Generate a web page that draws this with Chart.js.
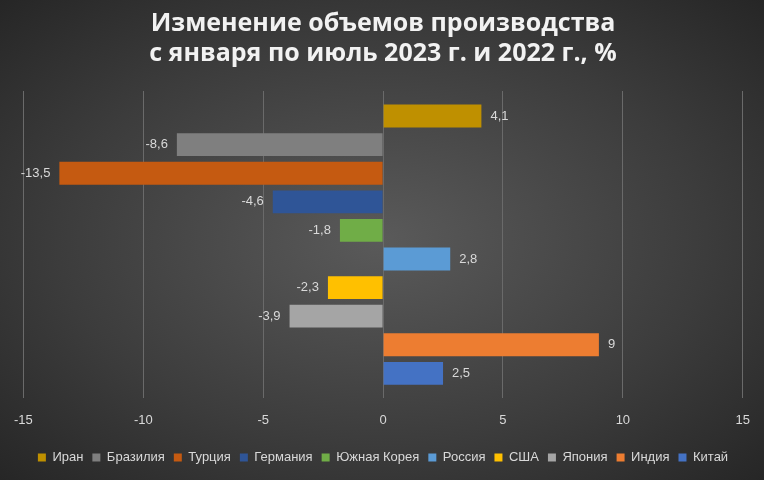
<!DOCTYPE html>
<html><head><meta charset="utf-8">
<script src="https://cdn.jsdelivr.net/npm/chart.js@4"></script>
<style>
html,body{margin:0;padding:0;}
body{width:764px;height:480px;background:radial-gradient(ellipse at center,#5a5a5a 0%,#3c3c3c 60%,#262626 100%);}
#wrap{width:764px;height:480px;}
</style></head>
<body><div id="wrap"><canvas id="c"></canvas></div>
<script>
var countries = ['Иран','Бразилия','Турция','Германия','Южная Корея','Россия','США','Япония','Индия','Китай'];
var values = [4.1, -8.6, -13.5, -4.6, -1.8, 2.8, -2.3, -3.9, 9, 2.5];
var colors = ['#BF9000','#7F7F7F','#C55A11','#2F5597','#70AD47','#5B9BD5','#FFC000','#A5A5A5','#ED7D31','#4472C4'];
var xTicks = [-15, -10, -5, 0, 5, 10, 15];

var datasets = countries.map(function(name, i) {
  return { label: name, data: [values[i]], backgroundColor: colors[i], borderWidth: 0 };
});

// value labels at bar ends
var labelPlugin = {
  id: 'vals',
  afterDatasetsDraw: function(chart) {
    var ctx = chart.ctx;
    ctx.save();
    ctx.font = '13px "Liberation Sans", Arial';
    ctx.fillStyle = '#d9d9d9';
    ctx.textBaseline = 'middle';
    chart.data.datasets.forEach(function(ds, i) {
      var bar = chart.getDatasetMeta(i).data[0];
      var v = ds.data[0];
      var txt = String(v).replace('.', ',');
      if (v >= 0) { ctx.textAlign = 'left'; ctx.fillText(txt, bar.x + 9, bar.y); }
      else { ctx.textAlign = 'right'; ctx.fillText(txt, bar.x - 9, bar.y); }
    });
    ctx.restore();
  }
};

new Chart(document.getElementById('c'), {
  type: 'bar',
  data: { labels: [''], datasets: datasets },
  plugins: [labelPlugin],
  options: {
    indexAxis: 'y',
    responsive: true,
    maintainAspectRatio: false,
    animation: false,
    layout: { padding: { left: 10, right: 8, top: 0, bottom: 6 } },
    datasets: { bar: { categoryPercentage: 0.93, barPercentage: 0.8 } },
    scales: {
      x: {
        min: -15, max: 15,
        afterBuildTicks: function(axis) { axis.ticks = xTicks.map(function(v){ return {value: v}; }); },
        grid: { color: '#6a6a6a', drawTicks: false },
        border: { display: false },
        ticks: { color: '#d9d9d9', font: { size: 13, family: '"Liberation Sans", Arial' }, padding: 14 }
      },
      y: { display: false }
    },
    plugins: {
      title: {
        display: true,
        text: ['Изменение объемов производства', 'с января по июль 2023 г. и 2022 г., %'],
        color: '#f2f2f2',
        font: { size: 25, weight: 'bold', family: '"Open Sans", Calibri, sans-serif' },
        padding: { top: 9, bottom: 22 },
        lineHeight: 1.38
      },
      legend: {
        position: 'bottom',
        labels: { color: '#d9d9d9', boxWidth: 8, boxHeight: 8, padding: 9, font: { size: 13, family: '"Liberation Sans", Arial' } }
      },
      tooltip: { enabled: false }
    }
  }
});
</script>
</body></html>
